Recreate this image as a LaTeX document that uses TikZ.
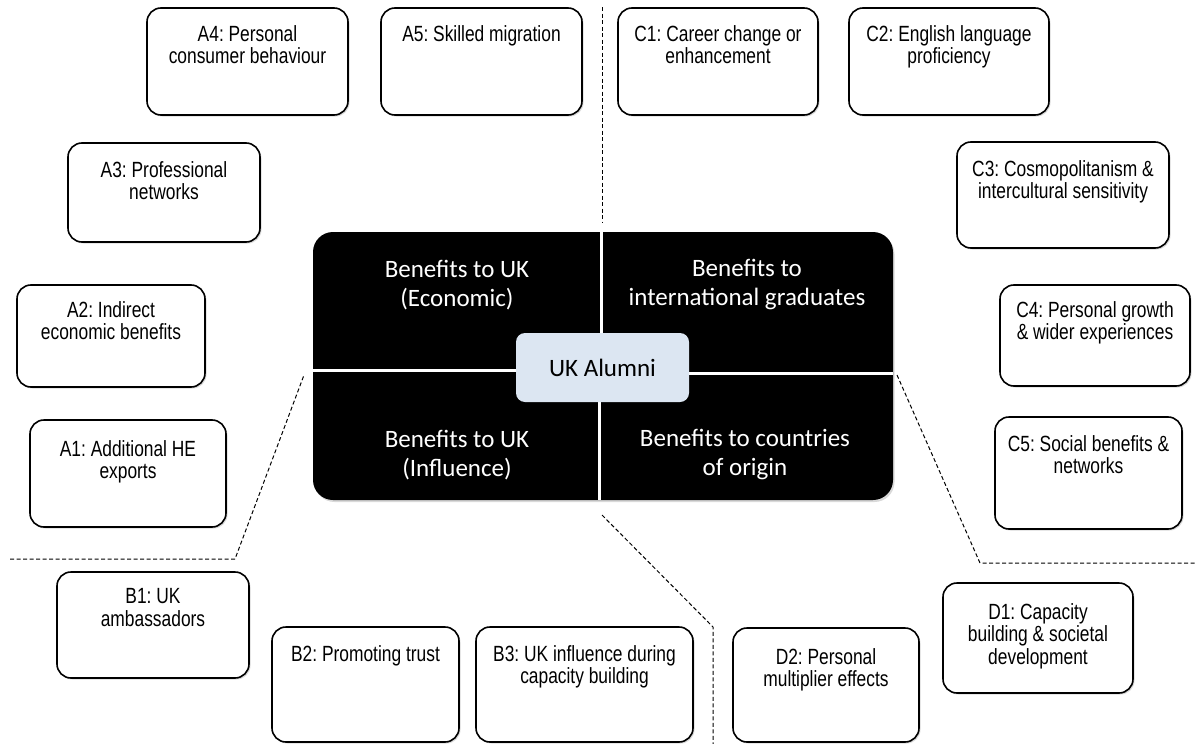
\documentclass[tikz,border=0pt]{standalone}
\usepackage{fontspec}
\setmainfont{Liberation Sans}
\newfontfamily\narrowfont[FakeStretch=0.79]{Liberation Sans}
\newfontfamily\calibrifont{Carlito}
\usepackage{tikz}
\usetikzlibrary{positioning, shadows}
\definecolor{hubblue}{HTML}{DCE6F2}
\frenchspacing

\begin{document}
\begin{tikzpicture}[x=1pt, y=-1pt,
    box/.style={rectangle, draw=black, line width=1.6pt, rounded corners=14pt, fill=white,
                drop shadow={shadow xshift=1.5pt, shadow yshift=-1.5pt, opacity=0.3}},
    boxtext/.style={align=center, inner sep=0pt, font=\narrowfont\fontsize{22}{22.5}\selectfont},
    quad/.style={align=center, text=white, font=\calibrifont\fontsize{25}{29}\selectfont},
    hub/.style={rectangle, rounded corners=9pt, fill=hubblue, minimum width=173pt, minimum height=69pt,
                font=\calibrifont\fontsize{25}{29}\selectfont},
    divider/.style={black, line width=1pt, dash pattern=on 4pt off 2.5pt}
]
    \useasboundingbox (0,0) rectangle (1195,744);

    % Central block
    \node[rectangle, fill=black, rounded corners=20pt, minimum width=580pt, minimum height=268pt,
          drop shadow={shadow xshift=1.5pt, shadow yshift=-2pt, opacity=0.3}] (core) at (603,366) {};
    \draw[white, line width=3pt] (601.5,232) -- (601.5,371.5);
    \draw[white, line width=3pt] (599.5,371.5) -- (599.5,500);
    \draw[white, line width=3pt] (313,370) -- (601,370);
    \draw[white, line width=3pt] (599,373.5) -- (893,373.5);

    \node[quad] (econ) at (457,285) {Benefits to UK\\(Economic)};
    \node[quad] (grads) at (747,285) {Benefits to\\international graduates};
    \node[quad] (influence) at (457,455) {Benefits to UK\\(Influence)};
    \node[quad] (origin) at (745,455) {Benefits to countries\\of origin};
    \node[hub] (alumni) at (602.5,367.5) {UK Alumni};

    % Dashed dividers
    \draw[divider] (602,7) -- (602,222);
    \draw[divider] (10,559) -- (235,559) -- (304,375);
    \draw[divider] (602,515) -- (713,627) -- (713,744);
    \draw[divider] (897,375) -- (980,563) -- (1195,563);

    % Top row
    \node[box, minimum width=201pt, minimum height=107pt] (a4) at (247.5,61.5) {};
    \node[boxtext, below=18pt of a4.north] (a4t) {A4: Personal\\consumer behaviour};
    \node[box, minimum width=201pt, minimum height=107pt] (a5) at (481.5,61.5) {};
    \node[boxtext, below=18pt of a5.north] (a5t) {A5: Skilled migration};
    \node[box, minimum width=200pt, minimum height=107pt] (c1) at (718,61.5) {};
    \node[boxtext, below=18pt of c1.north] (c1t) {C1: Career change or\\enhancement};
    \node[box, minimum width=200pt, minimum height=107pt] (c2) at (949,61.5) {};
    \node[boxtext, below=18pt of c2.north] (c2t) {C2: English language\\proficiency};

    % Left column
    \node[box, minimum width=192pt, minimum height=99pt] (a3) at (164,192.5) {};
    \node[boxtext, below=19pt of a3.north] (a3t) {A3: Professional\\networks};
    \node[box, minimum width=188pt, minimum height=102pt] (a2) at (111,336) {};
    \node[boxtext, below=17pt of a2.north] (a2t) {A2: Indirect\\economic benefits};
    \node[box, minimum width=196pt, minimum height=107pt] (a1) at (128,473.5) {};
    \node[boxtext, below=21pt of a1.north] (a1t) {A1: Additional HE\\exports};

    % Right column
    \node[box, minimum width=212pt, minimum height=106pt] (c3) at (1063,195) {};
    \node[boxtext, below=19pt of c3.north] (c3t) {C3: Cosmopolitanism \&\\intercultural sensitivity};
    \node[box, minimum width=190pt, minimum height=101pt] (c4) at (1095,335.5) {};
    \node[boxtext, below=17pt of c4.north] (c4t) {C4: Personal growth\\\& wider experiences};
    \node[box, minimum width=187pt, minimum height=112pt] (c5) at (1088.5,473) {};
    \node[boxtext, below=19pt of c5.north] (c5t) {C5: Social benefits \&\\networks};

    % Bottom row
    \node[box, minimum width=192pt, minimum height=106pt] (b1) at (153,625) {};
    \node[boxtext, below=17pt of b1.north] (b1t) {B1: UK\\ambassadors};
    \node[box, minimum width=187pt, minimum height=115pt] (b2) at (365.5,684.5) {};
    \node[boxtext, below=19pt of b2.north] (b2t) {B2: Promoting trust};
    \node[box, minimum width=217pt, minimum height=115pt] (b3) at (584.5,684.5) {};
    \node[boxtext, below=19pt of b3.north] (b3t) {B3: UK influence during\\capacity building};
    \node[box, minimum width=186pt, minimum height=114pt] (d2) at (826,685) {};
    \node[boxtext, below=21pt of d2.north] (d2t) {D2: Personal\\multiplier effects};
    \node[box, minimum width=190pt, minimum height=110pt] (d1) at (1038,638) {};
    \node[boxtext, below=21pt of d1.north] (d1t) {D1: Capacity\\building \& societal\\development};

\end{tikzpicture}
\end{document}
